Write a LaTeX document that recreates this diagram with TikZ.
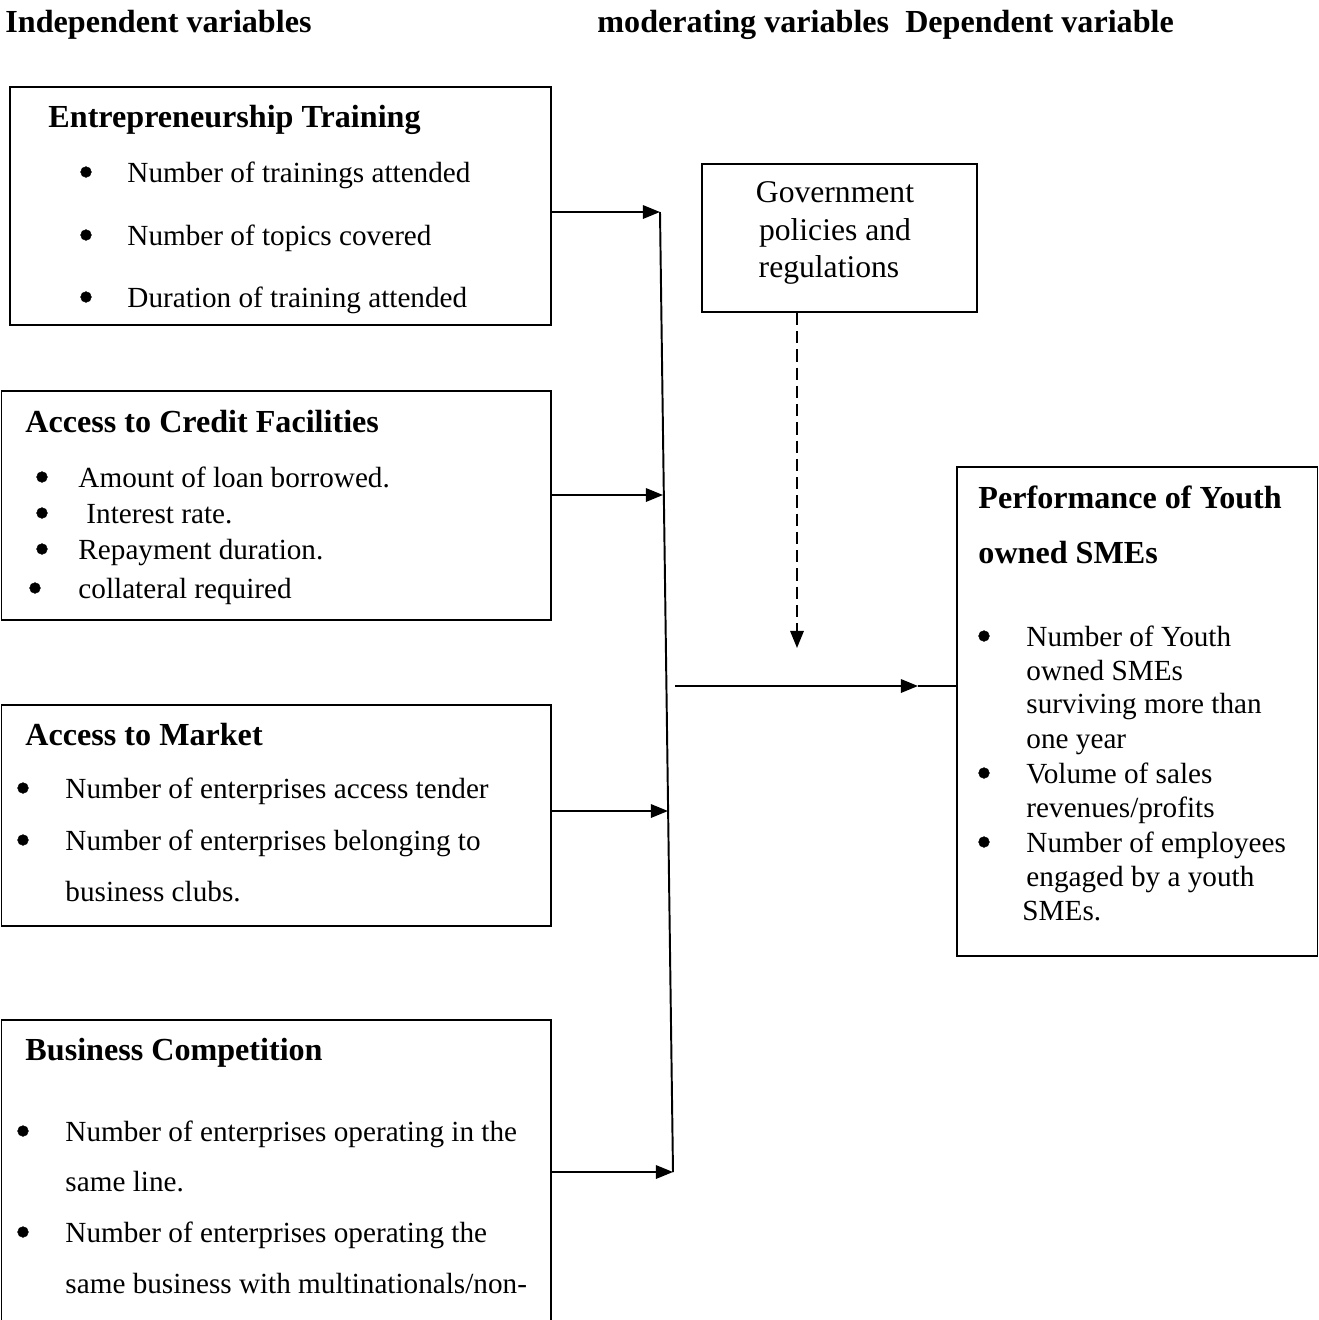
\documentclass[tikz,border=0pt]{standalone}
\usepackage{fontspec}
\setmainfont{Liberation Serif}
\usetikzlibrary{arrows.meta,fit}

\begin{document}
\begin{tikzpicture}[x=0.411pt,y=-0.411pt,
   txt/.style={inner sep=0,anchor=mid west,yshift=-2pt,font=\fontsize{12}{14}\selectfont},
   ttl/.style={inner sep=0,anchor=mid west,yshift=-2pt,font=\fontsize{13.2}{15}\selectfont\bfseries},
   bul/.style={circle,fill,draw,line width=0.2pt,inner sep=0,minimum size=4.4pt},
   box/.style={draw,line width=0.8pt,inner sep=0},
   arr/.style={line width=0.8pt,-{Triangle[length=7pt,width=5.5pt]}}]
   \useasboundingbox (0,0) rectangle (1319,1320);
   \clip (0,0) rectangle (1319,1320);

   % column headings
   \node[ttl] (hind) at (5,22) {Independent variables};
   \node[ttl] (hdep) at (597,22) {moderating variables\ \ Dependent variable};

   % independent variables
   \node[box,fit={(10,87) (551,325)}] (train) {};
   \node[ttl] (trainT) at (48,117) {Entrepreneurship Training};
   \node[bul] at (86,172) {};
   \node[txt] at (127,172) {Number of trainings attended};
   \node[bul] at (86,235) {};
   \node[txt] at (127,235) {Number of topics covered};
   \node[bul] at (86,297) {};
   \node[txt] at (127,297) {Duration of training attended};

   \node[box,fit={(1.5,391) (551,620)}] (credit) {};
   \node[ttl] (creditT) at (25,422) {Access to Credit Facilities};
   \node[bul] at (42,477) {};
   \node[txt] at (78,477) {Amount of loan borrowed.};
   \node[bul] at (42,513) {};
   \node[txt] at (86,513) {Interest rate.};
   \node[bul] at (42,549) {};
   \node[txt] at (78,549) {Repayment duration.};
   \node[bul] at (35,588) {};
   \node[txt] at (78,588) {collateral required};

   \node[box,fit={(1.5,705) (551,926)}] (market) {};
   \node[ttl] (marketT) at (25,735) {Access to Market};
   \node[bul] at (23,788) {};
   \node[txt] at (65,788) {Number of enterprises access tender};
   \node[bul] at (23,840) {};
   \node[txt] at (65,840) {Number of enterprises belonging to};
   \node[txt] at (65,891) {business clubs.};

   \node[box,fit={(1.5,1020) (551,1360)}] (compet) {};
   \node[ttl] (competT) at (25,1050) {Business Competition};
   \node[bul] at (23,1131) {};
   \node[txt] at (65,1131) {Number of enterprises operating in the};
   \node[txt] at (65,1181) {same line.};
   \node[bul] at (23,1232) {};
   \node[txt] at (65,1232) {Number of enterprises operating the};
   \node[txt] at (65,1283) {same business with multinationals/non-};

   % moderating variable
   \node[box,fit={(702,164) (977,312)}] (gov) {};
   \node[txt,anchor=mid,font=\fontsize{13}{15}\selectfont] at (835,192) {Government};
   \node[txt,anchor=mid,font=\fontsize{13}{15}\selectfont] at (835,230) {policies and};
   \node[txt,anchor=mid,font=\fontsize{13}{15}\selectfont] at (829,267) {regulations};

   % dependent variable
   \node[box,fit={(957,467) (1317.5,956)}] (perf) {};
   \node[ttl] (perfT) at (978,498) {Performance of Youth};
   \node[ttl] at (978,553) {owned SMEs};
   \node[bul] at (984,636) {};
   \node[txt] at (1026,636) {Number of Youth};
   \node[txt] at (1026,670) {owned SMEs};
   \node[txt] at (1026,703) {surviving more than};
   \node[txt] at (1026,738) {one year};
   \node[bul] at (984,773) {};
   \node[txt] at (1026,773) {Volume of sales};
   \node[txt] at (1026,807) {revenues/profits};
   \node[bul] at (984,842) {};
   \node[txt] at (1026,842) {Number of employees};
   \node[txt] at (1026,876) {engaged by a youth};
   \node[txt] at (1022,910) {SMEs.};

   % connectors
   \coordinate (t1) at (660,212);
   \coordinate (t2) at (663,495);
   \coordinate (t3) at (668,811);
   \coordinate (t4) at (673,1172);
   \draw[line width=0.8pt] (t1) -- (t4);
   \draw[arr] (train.east |- t1) -- (t1);
   \draw[arr] (credit.east |- t2) -- (t2);
   \draw[arr] (market.east |- t3) -- (t3);
   \draw[arr] (compet.east |- t4) -- (t4);

   \coordinate (m1) at (675,686);
   \coordinate (m2) at (918,686);
   \draw[arr] (m1) -- (m2);
   \draw[line width=0.8pt] (m2) -- (perf.west |- m2);

   \coordinate (d1) at (797,648);
   \draw[arr,dash pattern=on 5pt off 2.5pt] (gov.south -| d1) -- (d1);
\end{tikzpicture}
\end{document}
